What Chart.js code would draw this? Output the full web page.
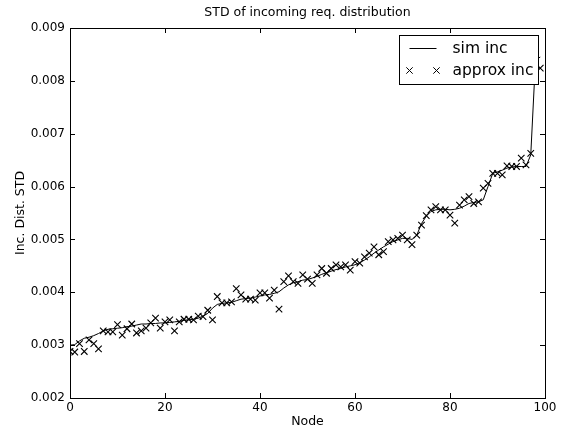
<!DOCTYPE html>
<html>
<head>
<meta charset="utf-8">
<script src="https://cdn.jsdelivr.net/npm/chart.js@4.4.1/dist/chart.umd.min.js"></script>
<style>
  html, body { margin: 0; padding: 0; background: #fff; }
  canvas { display: block; }
</style>
</head>
<body>
<canvas id="stdChart" width="570" height="430"></canvas>
<script>
// Node index 0..99
const nodes = [
  0, 1, 2, 3, 4, 5, 6, 7, 8, 9,
  10, 11, 12, 13, 14, 15, 16, 17, 18, 19,
  20, 21, 22, 23, 24, 25, 26, 27, 28, 29,
  30, 31, 32, 33, 34, 35, 36, 37, 38, 39,
  40, 41, 42, 43, 44, 45, 46, 47, 48, 49,
  50, 51, 52, 53, 54, 55, 56, 57, 58, 59,
  60, 61, 62, 63, 64, 65, 66, 67, 68, 69,
  70, 71, 72, 73, 74, 75, 76, 77, 78, 79,
  80, 81, 82, 83, 84, 85, 86, 87, 88, 89,
  90, 91, 92, 93, 94, 95, 96, 97, 98, 99
];

// simulated STD (line)
const simInc = [
  0.00300, 0.00301, 0.00308, 0.00313, 0.00315, 0.00318, 0.00322, 0.00327, 0.00330, 0.00331,
  0.00332, 0.00333, 0.00335, 0.00336, 0.00338, 0.00340, 0.00340, 0.00341, 0.00341, 0.00342,
  0.00342, 0.00343, 0.00344, 0.00345, 0.00347, 0.00348, 0.00349, 0.00351, 0.00355, 0.00360,
  0.00370, 0.00377, 0.00379, 0.00380, 0.00381, 0.00384, 0.00387, 0.00388, 0.00389, 0.00391,
  0.00393, 0.00395, 0.00396, 0.00398, 0.00401, 0.00408, 0.00414, 0.00418, 0.00420, 0.00423,
  0.00424, 0.00427, 0.00430, 0.00434, 0.00437, 0.00440, 0.00443, 0.00445, 0.00448, 0.00450,
  0.00452, 0.00456, 0.00461, 0.00467, 0.00474, 0.00480, 0.00486, 0.00491, 0.00496, 0.00499,
  0.00502, 0.00502, 0.00500, 0.00508, 0.00530, 0.00544, 0.00553, 0.00556, 0.00557, 0.00557,
  0.00556, 0.00557, 0.00559, 0.00563, 0.00568, 0.00570, 0.00571, 0.00575, 0.00600, 0.00625,
  0.00628, 0.00631, 0.00635, 0.00637, 0.00638, 0.00638, 0.00638, 0.00660, 0.00840, 0.00845
];

// approximated STD (x markers)
const approxInc = [
  0.00288, 0.00287, 0.00303, 0.00288, 0.00310, 0.00303, 0.00293, 0.00327, 0.00325, 0.00325,
  0.00339, 0.00319, 0.00331, 0.00340, 0.00323, 0.00327, 0.00332, 0.00342, 0.00351, 0.00332,
  0.00344, 0.00348, 0.00327, 0.00344, 0.00349, 0.00349, 0.00348, 0.00355, 0.00354, 0.00366,
  0.00348, 0.00392, 0.00380, 0.00380, 0.00382, 0.00407, 0.00395, 0.00387, 0.00387, 0.00385,
  0.00399, 0.00399, 0.00389, 0.00404, 0.00368, 0.00420, 0.00431, 0.00420, 0.00417, 0.00433,
  0.00425, 0.00417, 0.00433, 0.00445, 0.00436, 0.00445, 0.00452, 0.00448, 0.00452, 0.00442,
  0.00458, 0.00455, 0.00467, 0.00474, 0.00486, 0.00471, 0.00477, 0.00496, 0.00499, 0.00502,
  0.00508, 0.00499, 0.00490, 0.00508, 0.00527, 0.00545, 0.00556, 0.00562, 0.00556, 0.00556,
  0.00546, 0.00531, 0.00565, 0.00575, 0.00581, 0.00568, 0.00571, 0.00597, 0.00606, 0.00625,
  0.00625, 0.00622, 0.00639, 0.00638, 0.00638, 0.00654, 0.00641, 0.00663, 0.00835, 0.00824
];

const xTicks = [0, 20, 40, 60, 80, 100];
const yTicks = [0.002, 0.003, 0.004, 0.005, 0.006, 0.007, 0.008, 0.009];

const FONT = 'DejaVu Sans';
const TITLE = 'STD of incoming req. distribution';

// title centred over the axes (not over the whole canvas)
const axesTitle = {
  id: 'axesTitle',
  afterDraw(chart) {
    const { ctx, chartArea: a } = chart;
    ctx.save();
    ctx.fillStyle = '#000';
    ctx.font = '12.5px "' + FONT + '"';
    ctx.textAlign = 'center';
    ctx.textBaseline = 'middle';
    ctx.fillText(TITLE, (a.left + a.right) / 2, 13);
    ctx.restore();
  }
};

// matplotlib-style ticks pointing inwards, on all four sides
const inwardTicks = {
  id: 'inwardTicks',
  afterDatasetsDraw(chart) {
    const { ctx, chartArea: a, scales } = chart;
    ctx.save();
    ctx.strokeStyle = '#000';
    ctx.lineWidth = 1;
    ctx.beginPath();
    xTicks.forEach(v => {
      const px = Math.round(scales.x.getPixelForValue(v)) + 0.5;
      ctx.moveTo(px, a.bottom); ctx.lineTo(px, a.bottom - 5);
      ctx.moveTo(px, a.top); ctx.lineTo(px, a.top + 5);
    });
    yTicks.forEach(v => {
      const py = Math.round(scales.y.getPixelForValue(v)) + 0.5;
      ctx.moveTo(a.left, py); ctx.lineTo(a.left + 5, py);
      ctx.moveTo(a.right, py); ctx.lineTo(a.right - 5, py);
    });
    ctx.stroke();
    ctx.strokeRect(Math.round(a.left) + 0.5, Math.round(a.top) + 0.5,
      Math.round(a.right - a.left), Math.round(a.bottom - a.top));
    ctx.restore();
  }
};

// legend box in the upper right corner of the axes
const boxLegend = {
  id: 'boxLegend',
  afterDraw(chart) {
    const { ctx, chartArea: a } = chart;
    const w = 139, h = 49;
    const x0 = Math.round(a.right - 7 - w) + 0.5, y0 = Math.round(a.top + 7) + 0.5;
    ctx.save();
    ctx.fillStyle = '#fff';
    ctx.strokeStyle = '#000';
    ctx.lineWidth = 1;
    ctx.fillRect(x0, y0, w, h);
    ctx.strokeRect(x0, y0, w, h);

    const r1 = y0 + 13, r2 = y0 + 35;
    const lx1 = x0 + 10, lx2 = x0 + 37;
    ctx.beginPath();
    ctx.moveTo(lx1, r1); ctx.lineTo(lx2, r1);
    ctx.stroke();
    [lx1, lx2].forEach(cx => {
      const d = 3.2;
      ctx.beginPath();
      ctx.moveTo(cx - d, r2 - d); ctx.lineTo(cx + d, r2 + d);
      ctx.moveTo(cx - d, r2 + d); ctx.lineTo(cx + d, r2 - d);
      ctx.stroke();
    });
    ctx.fillStyle = '#000';
    ctx.font = '15.5px "' + FONT + '"';
    ctx.textBaseline = 'middle';
    ctx.fillText('sim inc', x0 + 53, r1);
    ctx.fillText('approx inc', x0 + 53, r2);
    ctx.restore();
  }
};

const ctx = document.getElementById('stdChart').getContext('2d');
const stdChart = new Chart(ctx, {
  type: 'line',
  data: {
    datasets: [{
      label: 'sim inc',
      data: nodes.map((n, i) => ({ x: n, y: simInc[i] })),
      borderColor: '#000',
      borderWidth: 1,
      pointRadius: 0,
      fill: false,
      tension: 0
    }, {
      label: 'approx inc',
      data: nodes.map((n, i) => ({ x: n, y: approxInc[i] })),
      showLine: false,
      pointStyle: 'crossRot',
      pointRadius: 4.6,
      pointBorderWidth: 1.1,
      pointBorderColor: '#000',
      pointBackgroundColor: '#000'
    }]
  },
  options: {
    responsive: false,
    animation: false,
    layout: { padding: { left: 0, right: 25, top: 28, bottom: 0 } },
    plugins: {
      legend: { display: false },
      tooltip: { enabled: false },
      title: { display: false }
    },
    scales: {
      x: {
        type: 'linear',
        min: 0,
        max: 100,
        afterFit(scale) { scale.height = 32; },
        afterBuildTicks(scale) { scale.ticks = xTicks.map(v => ({ value: v })); },
        grid: { display: false, drawTicks: false, tickLength: 0 },
        border: { display: false },
        ticks: {
          color: '#000',
          padding: 3,
          maxRotation: 0,
          font: { family: FONT, size: 12 }
        },
        title: {
          display: true,
          text: 'Node',
          color: '#000',
          font: { family: FONT, size: 12.5 },
          padding: { top: 0, bottom: 1 }
        }
      },
      y: {
        min: 0.002,
        max: 0.009,
        afterFit(scale) { scale.width = 70; },
        afterBuildTicks(scale) { scale.ticks = yTicks.map(v => ({ value: v })); },
        grid: { display: false, drawTicks: false, tickLength: 0 },
        border: { display: false },
        ticks: {
          color: '#000',
          padding: 5,
          font: { family: FONT, size: 12 },
          callback: v => v.toFixed(3)
        },
        title: {
          display: true,
          text: 'Inc. Dist. STD',
          color: '#000',
          font: { family: FONT, size: 12.5 },
          padding: { top: 13, bottom: 0 }
        }
      }
    }
  },
  plugins: [inwardTicks, boxLegend, axesTitle]
});
</script>
</body>
</html>
